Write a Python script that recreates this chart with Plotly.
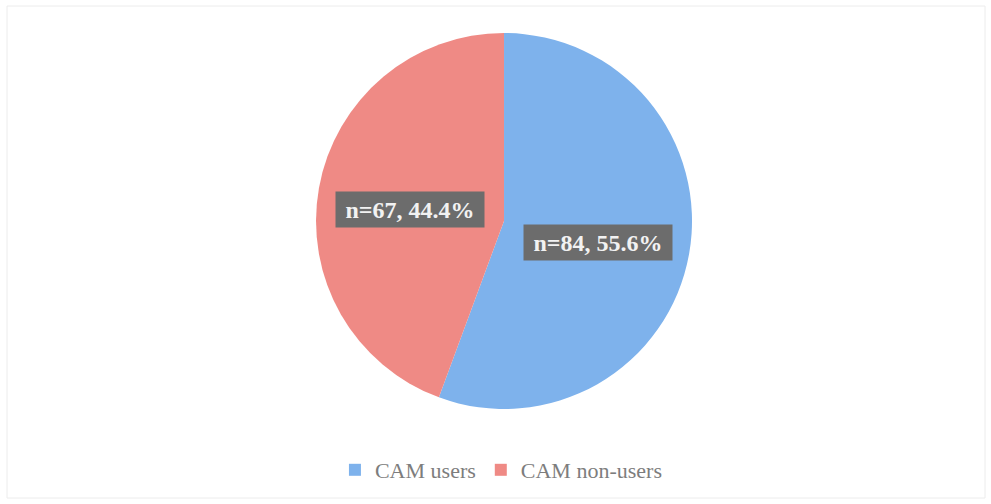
import math
import plotly.graph_objects as go

# Survey split of complementary/alternative medicine use
categories = ["CAM users", "CAM non-users"]
counts = [84, 67]
colors = ["#7eb2ec", "#ef8a85"]

total = sum(counts)
percents = [100.0 * c / total for c in counts]
label_texts = [f"<b>n={c}, {p:.1f}%</b>" for c, p in zip(counts, percents)]

W, H = 991, 504
dom_x = [0.3, 0.7172]
dom_y = [0.1885, 0.9345]

fig = go.Figure(
    go.Pie(
        labels=categories,
        values=counts,
        sort=False,
        direction="clockwise",
        rotation=0,
        marker=dict(colors=colors, line=dict(width=0)),
        textinfo="none",
        hoverinfo="label+value+percent",
        domain=dict(x=dom_x, y=dom_y),
    )
)

# Place each label box at the mid-angle of its slice
cx = (dom_x[0] + dom_x[1]) / 2 * W
cy_px = (1 - (dom_y[0] + dom_y[1]) / 2) * H
radius = min((dom_x[1] - dom_x[0]) * W, (dom_y[1] - dom_y[0]) * H) / 2
frac = 0.51
cum = 0.0
for c, txt in zip(counts, label_texts):
    mid = (cum + c / 2) / total * 2 * math.pi
    cum += c
    px = cx + frac * radius * math.sin(mid)
    py = cy_px - frac * radius * math.cos(mid) + 5
    fig.add_annotation(
        x=px / W, y=1 - py / H, xref="paper", yref="paper",
        text=txt, showarrow=False,
        font=dict(family="Liberation Serif", size=24, color="#f2f2f2"),
        bgcolor="#6c6c6c", borderpad=0, width=148, height=35,
        xanchor="center", yanchor="middle", valign="middle",
    )

# faint outer frame of the chart area
fig.add_shape(type="rect", xref="paper", yref="paper",
              x0=7 / W, x1=985 / W, y0=1 - 498 / H, y1=1 - 6 / H,
              line=dict(color="#ececec", width=1))

fig.update_layout(
    width=W, height=H,
    margin=dict(l=0, r=0, t=0, b=0),
    paper_bgcolor="white", plot_bgcolor="white",
    showlegend=True,
    legend=dict(
        orientation="h", x=0.506, xanchor="center",
        y=1 - 470 / H, yanchor="middle",
        font=dict(family="Liberation Serif", size=22, color="#7d7d7d"),
        itemwidth=30,
    ),
)

fig.write_html("out.html")
